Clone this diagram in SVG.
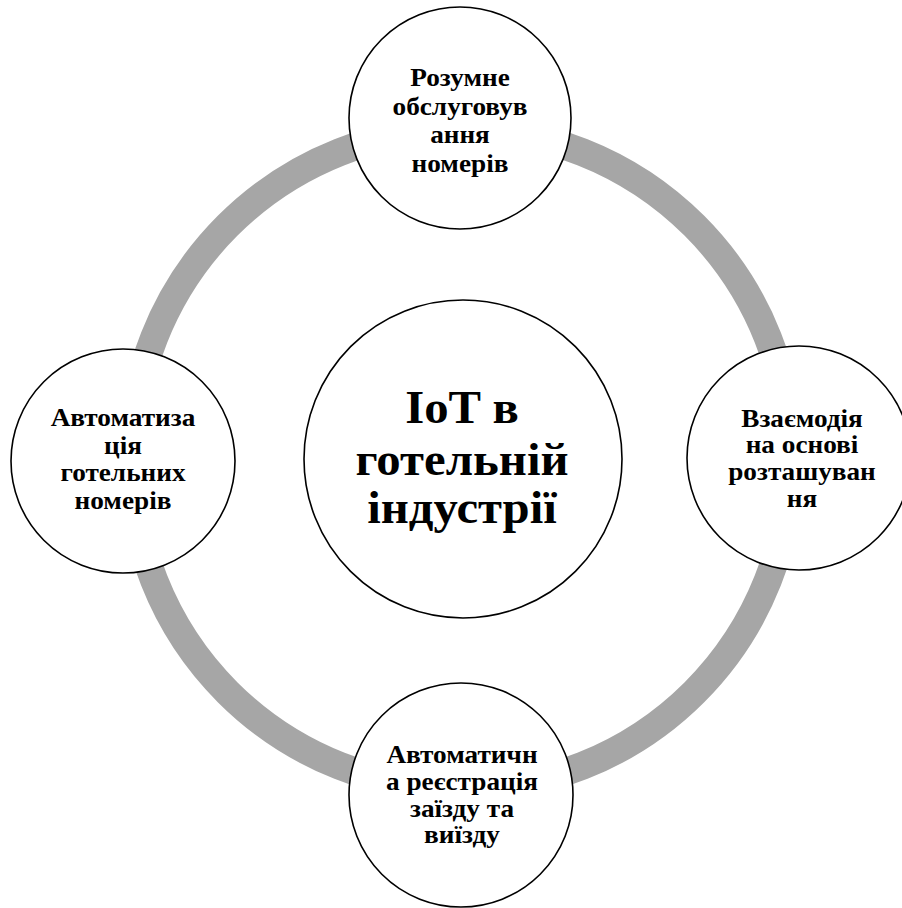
<svg xmlns="http://www.w3.org/2000/svg" width="902" height="908" viewBox="0 0 902 908">
  <style>
    .node circle { fill: #ffffff; stroke: #000000; stroke-width: 1.6; }
    .label { font-family: "Liberation Serif", "Times New Roman", serif; font-weight: bold; fill: #000000; text-anchor: middle; }
    .small { font-size: 25px; }
    .big { font-size: 46px; }
    .ring { fill: none; stroke: #a6a6a6; stroke-width: 28; }
  </style>
  <rect width="902" height="908" fill="#ffffff"/>
  <!-- connecting ring behind the nodes -->
  <g id="connectors">
    <circle class="ring" cx="461" cy="459" r="330"/>
  </g>
  <g id="node-center" class="node">
    <circle cx="463" cy="459" r="159"/>
    <g transform="translate(462 0) scale(1.06 1)">
      <text class="label big" x="0" y="423">IoT в</text>
      <text class="label big" x="0" y="475">готельній</text>
      <text class="label big" x="0" y="523">індустрії</text>
    </g>
  </g>
  <g id="node-top" class="node">
    <circle cx="460" cy="118" r="111"/>
    <g transform="translate(460 0) scale(1.09 1)">
      <text class="label small" x="0" y="86">Розумне</text>
      <text class="label small" x="0" y="115">обслуговув</text>
      <text class="label small" x="0" y="143">ання</text>
      <text class="label small" x="0" y="172">номерів</text>
    </g>
  </g>
  <g id="node-left" class="node">
    <circle cx="123" cy="461" r="112"/>
    <g transform="translate(123 0) scale(1.09 1)">
      <text class="label small" x="0" y="426">Автоматиза</text>
      <text class="label small" x="0" y="454">ція</text>
      <text class="label small" x="0" y="481">готельних</text>
      <text class="label small" x="0" y="509">номерів</text>
    </g>
  </g>
  <g id="node-right" class="node">
    <circle cx="799" cy="458" r="112"/>
    <g transform="translate(802 0) scale(1.09 1)">
      <text class="label small" x="0" y="427">Взаємодія</text>
      <text class="label small" x="0" y="453">на основі</text>
      <text class="label small" x="0" y="480">розташуван</text>
      <text class="label small" x="0" y="507">ня</text>
    </g>
  </g>
  <g id="node-bottom" class="node">
    <circle cx="461" cy="795" r="112"/>
    <g transform="translate(462 0) scale(1.09 1)">
      <text class="label small" x="0" y="763">Автоматичн</text>
      <text class="label small" x="0" y="790">а реєстрація</text>
      <text class="label small" x="0" y="817">заїзду та</text>
      <text class="label small" x="0" y="843">виїзду</text>
    </g>
  </g>
</svg>
